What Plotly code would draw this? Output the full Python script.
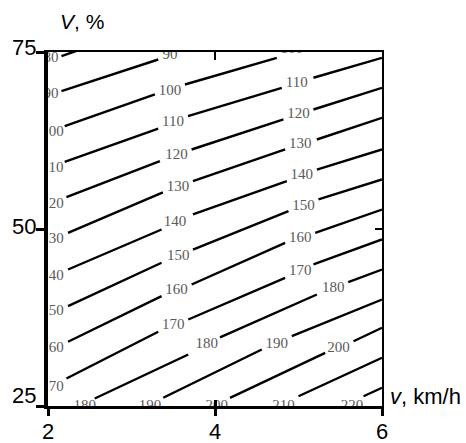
import plotly.graph_objects as go

# ---- data (v in km/h, V in %) ----
levels = [80, 90, 100, 110, 120, 130, 140, 150, 160, 170, 180, 190, 200, 210, 220]

# contour polylines (None = gap where an inline label sits)
contour_v = [
    [2.161, 2.37],
    [2.161, 3.320],
    [2.200, 3.280, None, 3.640, 4.740],
    [2.200, 3.320, None, 3.676, 4.800, None, 5.179, 6.0],
    [2.221, 3.340, None, 3.720, 4.820, None, 5.179, 6.0],
    [2.240, 3.376, None, 3.736, 4.840, None, 5.220, 6.0],
    [2.240, 3.360, None, 3.736, 4.860, None, 5.220, 6.0],
    [2.240, 3.360, None, 3.736, 4.880, None, 5.239, 6.0],
    [2.240, 3.360, None, 3.720, 4.840, None, 5.200, 6.0],
    [2.221, 3.320, None, 3.680, 4.840, None, 5.179, 6.0],
    [2.560, 3.680, None, 4.060, 5.220, None, 5.596, 6.0],
    [3.380, 4.560, None, 4.920, 6.0],
    [4.180, 5.320, None, 5.659, 6.0],
    [5.000, 6.0],
    [5.779, 6.0],
]
contour_V = [
    [74.41, 75.28],
    [69.46, 73.94],
    [64.52, 69.00, None, 70.41, 74.18],
    [59.49, 64.19, None, 65.93, 69.94, None, 71.36, 74.18],
    [54.49, 59.58, None, 61.23, 65.47, None, 66.88, 69.94],
    [49.46, 55.16, None, 56.75, 61.23, None, 62.64, 65.71],
    [44.28, 49.93, None, 52.05, 56.75, None, 58.40, 61.23],
    [39.10, 45.23, None, 47.10, 52.51, None, 54.17, 56.99],
    [34.07, 40.51, None, 42.16, 48.05, None, 49.46, 52.75],
    [28.88, 35.48, None, 37.22, 43.11, None, 44.99, 48.52],
    [26.06, 32.27, None, 34.68, 40.75, None, 42.51, 44.28],
    [26.16, 32.98, None, 34.86, 40.04],
    [26.16, 32.51, None, 34.15, 36.05],
    [26.38, 31.81],
    [26.38, 27.57],
]

# inline contour labels
label_text = ["80",
              "90", "90",
              "100", "100", "100",
              "110", "110", "110",
              "120", "120", "120",
              "130", "130", "130",
              "140", "140", "140",
              "150", "150", "150",
              "160", "160", "160",
              "170", "170", "170",
              "180", "180", "180",
              "190", "190",
              "200", "200",
              "210",
              "220"]
label_v = [2.036,
           2.036, 3.460,
           2.054, 3.460, 4.920,
           2.054, 3.496, 4.980,
           2.054, 3.540, 5.000,
           2.054, 3.556, 5.020,
           2.054, 3.520, 5.040,
           2.054, 3.560, 5.060,
           2.054, 3.540, 5.020,
           2.054, 3.500, 5.020,
           2.440, 3.900, 5.416,
           3.222, 4.740,
           4.020, 5.479,
           4.819,
           5.640]
label_V = [74.08,
           69.00, 74.50,
           63.73, 69.46, 75.45,
           58.64, 65.04, 70.65,
           53.56, 60.42, 66.17,
           48.52, 55.86, 62.03,
           43.29, 50.92, 57.60,
           38.35, 46.16, 53.22,
           33.12, 41.31, 48.66,
           27.66, 36.41, 44.04,
           24.90, 33.69, 41.67,
           24.90, 33.78,
           24.90, 33.22,
           24.90,
           24.90]

x_ticks = [2, 4, 6]
x_ticktext = ["2", "4", "6"]
y_ticks = [25, 50, 75]
y_ticktext = ["25", "50", "75"]
x_title = "<i>v</i>, km/h"
y_title = "<i>V</i>, %"

SANS = "Arial, Liberation Sans, sans-serif"
SERIF = "Times New Roman, Liberation Serif, serif"

fig = go.Figure()

for lv, xs, ys in zip(levels, contour_v, contour_V):
    fig.add_trace(go.Scatter(
        x=xs, y=ys, mode="lines", name=str(lv),
        line=dict(color="black", width=2.4),
        connectgaps=False, showlegend=False, hoverinfo="skip",
        cliponaxis=True,
    ))

fig.add_trace(go.Scatter(
    x=label_v, y=label_V, text=label_text, mode="text",
    textposition="middle center",
    textfont=dict(family=SERIF, size=15, color="#5a5a5a"),
    showlegend=False, hoverinfo="skip", cliponaxis=True,
))

# dummy traces to activate the mirror axes
fig.add_trace(go.Scatter(x=[None], y=[None], xaxis="x2", yaxis="y",
                         showlegend=False, hoverinfo="skip"))
fig.add_trace(go.Scatter(x=[None], y=[None], xaxis="x", yaxis="y2",
                         showlegend=False, hoverinfo="skip"))
fig.add_trace(go.Scatter(x=[None], y=[None], xaxis="x3", yaxis="y",
                         showlegend=False, hoverinfo="skip"))

common = dict(showgrid=False, zeroline=False, fixedrange=True, automargin=False)

fig.update_layout(
    width=466, height=443,
    margin=dict(l=48, r=84, t=52, b=37),
    paper_bgcolor="white", plot_bgcolor="white",
    xaxis=dict(range=[x_ticks[0], x_ticks[-1]], tickvals=x_ticks, ticktext=x_ticktext,
               ticks="outside", ticklen=7, tickwidth=2.5, tickcolor="black",
               showline=True, linecolor="black", linewidth=2.5,
               ticklabelstandoff=-3,
               tickfont=dict(family=SANS, size=22, color="black"), **common),
    yaxis=dict(range=[y_ticks[0], y_ticks[-1]], tickvals=y_ticks,
               ticks="outside", ticklen=8, tickwidth=2.5, tickcolor="black",
               showline=True, linecolor="black", linewidth=3.5,
               showticklabels=False, **common),
    xaxis2=dict(range=[x_ticks[0], x_ticks[-1]], overlaying="x", side="top", anchor="y",
                tickvals=[x_ticks[1]], ticks="inside", ticklen=8, tickwidth=2,
                tickcolor="black", showline=True, linecolor="black", linewidth=2,
                showticklabels=False, **common),
    xaxis3=dict(range=[x_ticks[0], x_ticks[-1]], overlaying="x", side="bottom", anchor="y",
                tickvals=[x_ticks[1]], ticks="inside", ticklen=6, tickwidth=2.5,
                tickcolor="black", showline=False, showticklabels=False, **common),
    yaxis2=dict(range=[y_ticks[0], y_ticks[-1]], overlaying="y", side="right", anchor="x",
                tickvals=[y_ticks[1]], ticks="inside", ticklen=7, tickwidth=2,
                tickcolor="black", showline=True, linecolor="black", linewidth=2,
                showticklabels=False, **common),
)

# y tick labels (drawn as annotations: the lowest sits above its tick, as in the reference)
y_label_shift = {25: 11, 50: 3, 75: 5}
for val, txt in zip(y_ticks, y_ticktext):
    fig.add_annotation(x=0, xref="paper", y=val, yref="y", text=txt,
                       xanchor="right", yanchor="middle", xshift=-10,
                       yshift=y_label_shift[val],
                       showarrow=False, font=dict(family=SANS, size=22, color="black"))

fig.add_annotation(x=0.03, xref="paper", y=1.086, yref="paper", text=y_title,
                   xanchor="left", yanchor="middle", showarrow=False,
                   font=dict(family=SANS, size=21, color="black"))
fig.add_annotation(x=1.018, xref="paper", y=0.028, yref="paper", text=x_title,
                   xanchor="left", yanchor="middle", showarrow=False,
                   font=dict(family=SANS, size=22, color="black"))

fig.write_html("out.html", config={"displayModeBar": False},
               post_script="document.body.style.margin='0';")
